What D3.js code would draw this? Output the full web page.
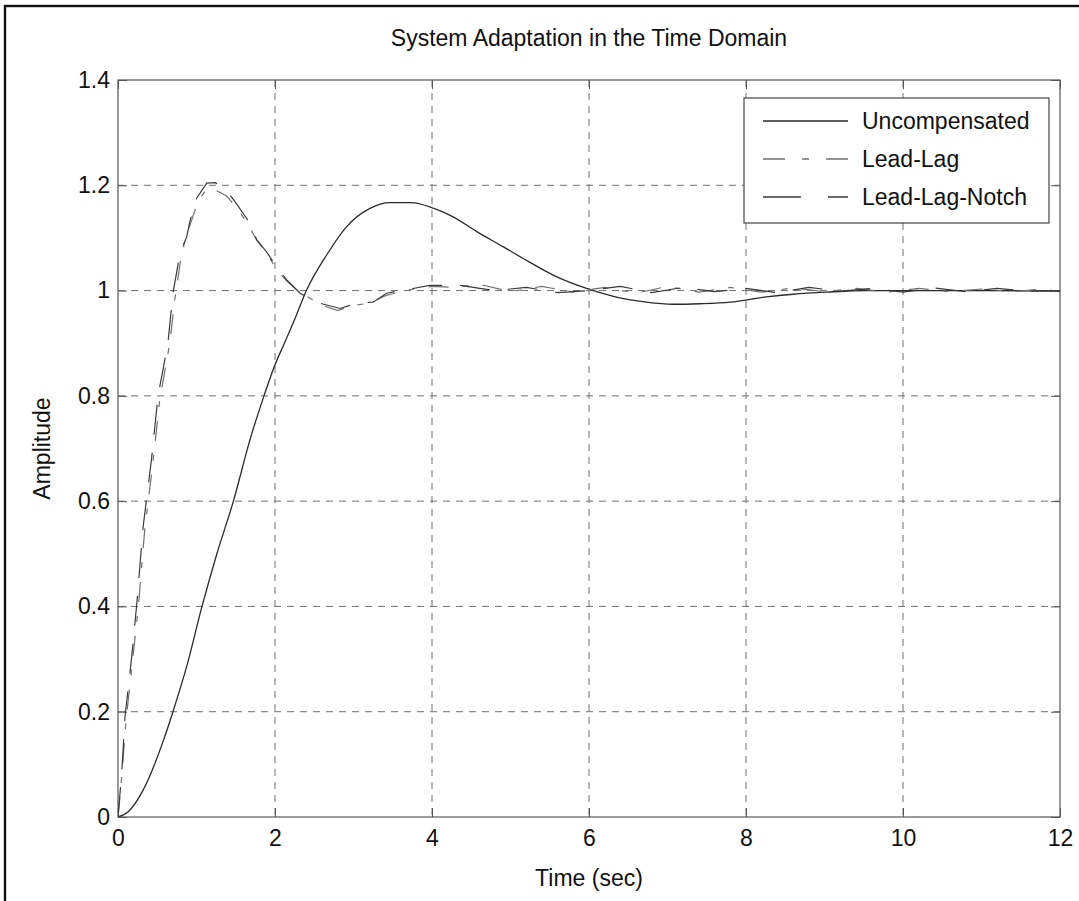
<!DOCTYPE html>
<html>
<head>
<meta charset="utf-8">
<script src="https://cdn.jsdelivr.net/npm/d3@7"></script>
<style>
  html, body { margin: 0; padding: 0; background: #fff; }
  svg { display: block; font-family: "Liberation Sans", Arial, Helvetica, sans-serif; }
</style>
</head>
<body>
<div id="chart"></div>
<script>
// values
const xTicks = [0, 2, 4, 6, 8, 10, 12];
const yTicks = [0, 0.2, 0.4, 0.6, 0.8, 1, 1.2, 1.4];

const uncompT = [0, 0.13, 0.32, 0.58, 0.7, 0.875, 1.07, 1.26, 1.47, 1.68, 1.86, 2.0, 2.12, 2.25, 2.4, 2.66, 2.91, 3.21, 3.46, 3.74, 3.97, 4.27, 4.57, 4.91, 5.16, 5.59, 5.97, 6.31, 6.73, 7.07, 7.41, 7.8, 8.26, 8.6, 9.03, 9.54, 10.0, 11.0, 12.0];
const uncompA = [0, 0.01, 0.051, 0.146, 0.2, 0.286, 0.4, 0.5, 0.6, 0.716, 0.8, 0.859, 0.9, 0.945, 1.0, 1.068, 1.121, 1.156, 1.167, 1.167, 1.159, 1.14, 1.112, 1.083, 1.061, 1.026, 1.004, 0.989, 0.978, 0.974, 0.975, 0.978, 0.988, 0.993, 0.997, 1.0, 1.0, 1.0, 0.999];

const leadLagT = [0, 0.05, 0.1, 0.18, 0.26, 0.34, 0.45, 0.53, 0.6, 0.66, 0.72, 0.8, 0.86, 0.93, 1.02, 1.14, 1.25, 1.38, 1.5, 1.64, 1.77, 1.9, 2.02, 2.15, 2.3, 2.45, 2.6, 2.8, 3.0, 3.2, 3.4, 3.6, 3.8, 4.0, 4.3, 4.6, 5.0, 5.4, 5.8, 6.2, 6.6, 7.0, 7.4, 7.8, 8.2, 8.6, 9.0, 9.4, 9.8, 10.2, 10.6, 11.0, 11.4, 11.8, 12.0];
const leadLagA = [0, 0.08, 0.18, 0.29, 0.4, 0.545, 0.68, 0.79, 0.85, 0.9, 0.98, 1.06, 1.1, 1.13, 1.17, 1.195, 1.19, 1.18, 1.16, 1.13, 1.095, 1.07, 1.04, 1.018, 0.998, 0.985, 0.972, 0.962, 0.972, 0.976, 0.99, 0.998, 1.004, 1.008, 1.006, 1.012, 0.998, 1.008, 0.997, 1.006, 0.995, 1.008, 0.997, 1.006, 0.997, 1.005, 0.998, 1.004, 0.997, 1.004, 0.998, 1.003, 0.998, 1.003, 0.997];

const notchT = [0, 0.047, 0.089, 0.17, 0.24, 0.32, 0.43, 0.51, 0.58, 0.64, 0.7, 0.79, 0.875, 0.92, 1.0, 1.13, 1.24, 1.38, 1.49, 1.64, 1.77, 1.89, 2.02, 2.15, 2.32, 2.38, 2.57, 2.83, 3.04, 3.25, 3.42, 3.6, 3.76, 3.97, 4.36, 4.8, 5.2, 5.6, 6.0, 6.4, 6.8, 7.2, 7.6, 8.0, 8.4, 8.8, 9.2, 9.6, 10.0, 10.4, 10.8, 11.2, 11.6, 12.0];
const notchA = [0, 0.083, 0.19, 0.298, 0.406, 0.551, 0.684, 0.8, 0.855, 0.906, 0.995, 1.071, 1.102, 1.134, 1.175, 1.204, 1.205, 1.191, 1.169, 1.137, 1.096, 1.074, 1.045, 1.02, 0.995, 0.99, 0.976, 0.966, 0.976, 0.978, 0.995, 1.0, 1.004, 1.01, 1.01, 1.0, 1.006, 0.996, 1.0, 1.008, 0.996, 1.006, 0.998, 1.004, 0.996, 1.006, 0.999, 1.004, 0.997, 1.005, 0.998, 1.004, 0.999, 1.0];

const seriesNames = ["Uncompensated", "Lead-Lag", "Lead-Lag-Notch"];

const width = 1079, height = 901;
const box = { left: 118, right: 1060, top: 80, bottom: 817 };
const font = 23;

const svg = d3.select("#chart").append("svg").attr("width", width).attr("height", height);
svg.append("rect").attr("width", width).attr("height", height).attr("fill", "#fff");

// outer frame of the figure (only top and left edges are inside the picture)
svg.append("rect").attr("x", 5).attr("y", 6).attr("width", width + 10).attr("height", height + 10)
  .attr("fill", "none").attr("stroke", "#111").attr("stroke-width", 2.4);

const x = d3.scaleLinear().domain([0, 12]).range([box.left, box.right]);
const y = d3.scaleLinear().domain([0, 1.4]).range([box.bottom, box.top]);

// grid
const grid = svg.append("g").attr("stroke", "#707070").attr("stroke-width", 1).attr("stroke-dasharray", "7,6");
grid.selectAll("line.vx").data(xTicks.slice(1, -1)).join("line").attr("class", "vx")
  .attr("x1", (d) => x(d)).attr("x2", (d) => x(d)).attr("y1", box.top).attr("y2", box.bottom);
grid.selectAll("line.hy").data(yTicks.slice(1, -1)).join("line").attr("class", "hy")
  .attr("y1", (d) => y(d)).attr("y2", (d) => y(d)).attr("x1", box.left).attr("x2", box.right);

// axes with inward ticks
svg.append("g").attr("transform", `translate(0,${box.bottom})`)
  .call(d3.axisBottom(x).tickValues(xTicks).tickSizeInner(-9).tickSizeOuter(0).tickPadding(13).tickFormat(d3.format("")));
svg.append("g").attr("transform", `translate(${box.left},0)`)
  .call(d3.axisLeft(y).tickValues(yTicks).tickSizeInner(-9).tickSizeOuter(0).tickPadding(8).tickFormat(d3.format("")));
svg.append("g").attr("transform", `translate(0,${box.top})`)
  .call(d3.axisTop(x).tickValues(xTicks).tickSizeInner(-9).tickSizeOuter(0).tickFormat(""));
svg.append("g").attr("transform", `translate(${box.right},0)`)
  .call(d3.axisRight(y).tickValues(yTicks).tickSizeInner(-9).tickSizeOuter(0).tickFormat(""));
svg.selectAll(".domain").remove();
svg.selectAll(".tick line").attr("stroke", "#555");
svg.selectAll(".tick text").attr("font-size", font).attr("fill", "#111")
  .attr("font-family", "'Liberation Sans', Arial, Helvetica, sans-serif");

svg.append("rect").attr("x", box.left).attr("y", box.top)
  .attr("width", box.right - box.left).attr("height", box.bottom - box.top)
  .attr("fill", "none").attr("stroke", "#555").attr("stroke-width", 1.2);

// curves
svg.append("clipPath").attr("id", "plotclip").append("rect")
  .attr("x", box.left).attr("y", box.top).attr("width", box.right - box.left).attr("height", box.bottom - box.top);
const curves = svg.append("g").attr("clip-path", "url(#plotclip)").attr("fill", "none");
const zip = (ts, vs) => ts.map((t, i) => [t, vs[i]]);
const smooth = d3.line().x((d) => x(d[0])).y((d) => y(d[1])).curve(d3.curveMonotoneX);
const jagged = d3.line().x((d) => x(d[0])).y((d) => y(d[1]));

const styles = [
  { name: seriesNames[0], dash: null, color: "#2a2a2a", width: 1.3 },
  { name: seriesNames[1], dash: "20,14,6,14", color: "#707070", width: 1.2 },
  { name: seriesNames[2], dash: "30,18", color: "#3a3a3a", width: 1.2 },
];
const paths = [smooth(zip(uncompT, uncompA)), jagged(zip(leadLagT, leadLagA)), jagged(zip(notchT, notchA))];
curves.selectAll("path").data(styles).join("path")
  .attr("d", (s, i) => paths[i]).attr("stroke", (s) => s.color)
  .attr("stroke-width", (s) => s.width).attr("stroke-dasharray", (s) => s.dash);

// legend
const legend = svg.append("g");
legend.append("rect").attr("x", 744).attr("y", 98).attr("width", 305).attr("height", 125)
  .attr("fill", "#fff").attr("stroke", "#444").attr("stroke-width", 1.2);
const legendDash = [null, "22,17,7,17", "38,27"];
const rows = legend.selectAll("g.row").data(styles).join("g").attr("class", "row")
  .attr("transform", (s, i) => `translate(0,${121 + i * 38})`);
rows.append("line").attr("x1", 763).attr("x2", 848)
  .attr("stroke", (s) => s.color).attr("stroke-width", 1.3).attr("stroke-dasharray", (s, i) => legendDash[i]);
rows.append("text").attr("x", 862).attr("dy", "0.36em").attr("font-size", font).attr("fill", "#111")
  .text((s) => s.name);

// titles
svg.append("text").attr("x", (box.left + box.right) / 2).attr("y", 46).attr("text-anchor", "middle")
  .attr("font-size", font).attr("fill", "#111").text("System Adaptation in the Time Domain");
svg.append("text").attr("x", (box.left + box.right) / 2).attr("y", 886).attr("text-anchor", "middle")
  .attr("font-size", font).attr("fill", "#111").text("Time (sec)");
svg.append("text").attr("transform", `translate(50,${(box.top + box.bottom) / 2}) rotate(-90)`)
  .attr("text-anchor", "middle").attr("font-size", font).attr("fill", "#111").text("Amplitude");
</script>
</body>
</html>
